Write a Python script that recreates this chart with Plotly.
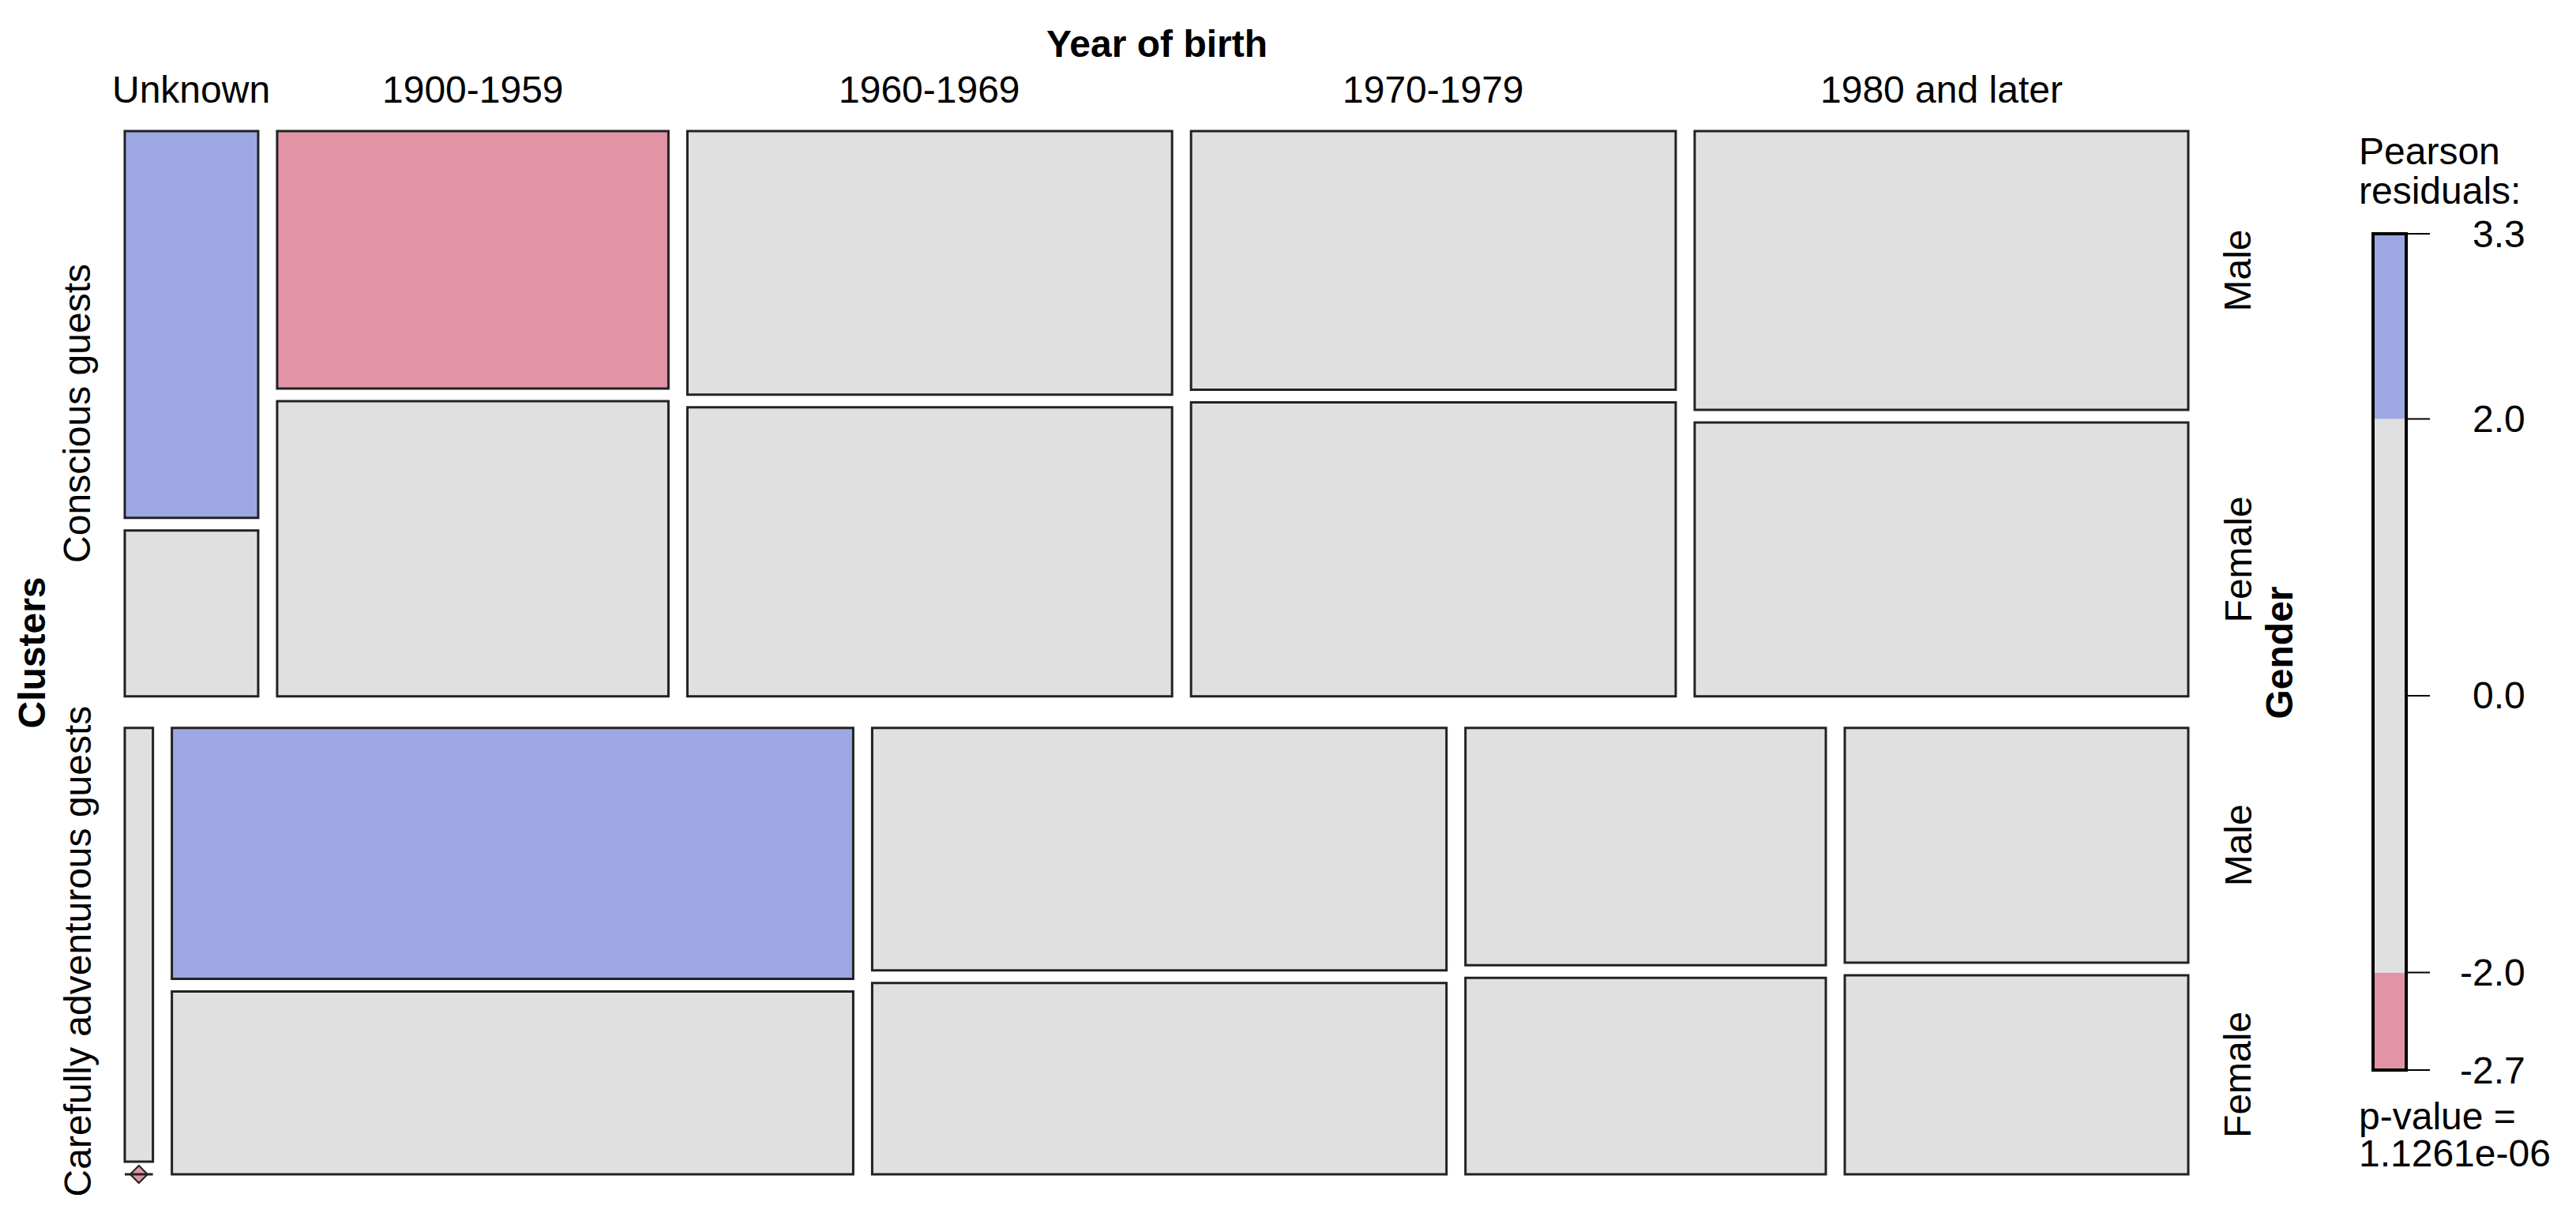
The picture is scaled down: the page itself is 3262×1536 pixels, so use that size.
import numpy as np
import plotly.graph_objects as go

clusters = ["Conscious guests", "Carefully adventurous guests"]
years = ["Unknown", "1900-1959", "1960-1969", "1970-1979", "1980 and later"]
genders = ["Male", "Female"]

male_conscious = [21, 41, 52, 51, 56]
female_conscious = [9, 47, 57, 58, 55]
male_careful = [5, 70, 57, 35, 33]
female_careful = [0, 51, 45, 29, 28]

p_value_text = "1.1261e-06"

# colours (vcd hcl shading)
col_pos = "#9DA8E2"
col_neg = "#E294A6"
col_mid = "#E0E0E0"
edge = "#222222"
FONT = "Liberation Sans, Arial, sans-serif"
FS = 48

W, H = 3262, 1536
OFF = 8          # the page body margin shifts the figure by 8px
TDY = -3         # nudge horizontal text so glyphs sit centred
TDX = -6         # same for rotated text


def px(x):
    return (x - OFF) / W


def py(y):
    return 1 - (y - OFF) / H


# mosaic area in reference pixels
MX0, MX1, MY0, MY1 = 158 - OFF, 2771 - OFF, 166 - OFF, 1487 - OFF
PAD = 10
gap_cluster = 40 / (MY1 - MY0)
gap_year = 24 / (MX1 - MX0)
gap_gender = 16 / (MY1 - MY0)

counts = np.array([[male_conscious, female_conscious],
                   [male_careful, female_careful]], dtype=float).transpose(0, 2, 1)  # cluster, year, gender
N = counts.sum()
p_c = counts.sum(axis=(1, 2)) / N
p_y = counts.sum(axis=(0, 2)) / N
p_g = counts.sum(axis=(0, 1)) / N
expected = N * p_c[:, None, None] * p_y[None, :, None] * p_g[None, None, :]
resid = (counts - expected) / np.sqrt(expected)


def shade(r):
    if r >= 2:
        return col_pos
    if r <= -2:
        return col_neg
    return col_mid


fig = go.Figure()
shapes = []
annotations = []

cluster_tot = counts.sum(axis=(1, 2))
y_top = 1.0
cluster_centers = []
gender_label_pos = []
year_centers_top = []
for i in range(len(clusters)):
    h = (1 - gap_cluster) * cluster_tot[i] / N
    cluster_centers.append(y_top - h / 2)
    ytot = counts[i].sum(axis=1)
    x0 = 0.0
    for j in range(len(years)):
        w = (1 - gap_year * (len(years) - 1)) * ytot[j] / cluster_tot[i]
        if i == 0:
            year_centers_top.append(x0 + w / 2)
        yy = y_top
        for k in range(len(genders)):
            gh = (h - gap_gender) * counts[i, j, k] / ytot[j]
            if counts[i, j, k] > 0:
                shapes.append(dict(type="rect", xref="x", yref="y", x0=x0, x1=x0 + w,
                                   y0=yy - gh, y1=yy, fillcolor=shade(resid[i, j, k]),
                                   line=dict(color=edge, width=3), layer="above"))
            else:
                shapes.append(dict(type="line", xref="x", yref="y", x0=x0, x1=x0 + w,
                                   y0=yy, y1=yy, line=dict(color=edge, width=3)))
                fig.add_trace(go.Scatter(x=[x0 + w / 2], y=[yy], mode="markers", cliponaxis=False,
                                         marker=dict(symbol="diamond", size=17, color=shade(resid[i, j, k]),
                                                     line=dict(color=edge, width=2)),
                                         showlegend=False, hoverinfo="skip"))
            if j == len(years) - 1:
                gender_label_pos.append((genders[k], yy - gh / 2))
            yy -= gh + gap_gender
        x0 += w + gap_year
    y_top -= h + gap_cluster


def label(text, **kw):
    d = dict(text=text, showarrow=False, xanchor="center", yanchor="middle", font=dict(size=FS))
    d.update(kw)
    annotations.append(d)


# labels around the mosaic
label("<b>Year of birth</b>", xref="x", yref="paper", x=0.5, y=py(52), yshift=TDY)
for name, xc in zip(years, year_centers_top):
    label(name, xref="x", yref="paper", x=xc, y=py(111), yshift=TDY)
label("<b>Clusters</b>", xref="paper", yref="y", x=px(46), y=0.5, textangle=-90, xshift=TDX)
for name, yc in zip(clusters, cluster_centers):
    label(name, xref="paper", yref="y", x=px(104), y=yc, textangle=-90, xshift=TDX)
for name, yc in gender_label_pos:
    label(name, xref="paper", yref="y", x=px(2840), y=yc, textangle=-90, xshift=TDX)
label("<b>Gender</b>", xref="paper", yref="y", x=px(2892), y=0.5, textangle=-90, xshift=TDX)

# legend (shading scale)
rmin, rmax = float(resid.min()), float(resid.max())
LX0, LX1, LT, LB = 3005 - OFF, 3047 - OFF, 296 - OFF, 1355 - OFF
bw = LX1 - LX0
ppu = (LB - LT) / (rmax - rmin)
breaks = [rmin, -2, 0, 2, rmax]
segs = [(rmin, -2, col_neg), (-2, 2, col_mid), (2, rmax, col_pos)]
for a, b, c in segs:
    shapes.append(dict(type="rect", xref="x2", yref="y2", x0=0, x1=1, y0=a, y1=b,
                       fillcolor=c, line=dict(width=0)))
shapes.append(dict(type="rect", xref="x2", yref="y2", x0=0, x1=1, y0=rmin, y1=rmax,
                   line=dict(color="black", width=4)))
for v in breaks:
    shapes.append(dict(type="line", xref="x2", yref="y2", x0=1, x1=(3077 - OFF - LX0) / bw, y0=v, y1=v,
                       line=dict(color="black", width=2)))
    label(f"{v:.1f}", xref="x2", yref="y2", x=(3200 - OFF - LX0) / bw, y=v,
          xanchor="right", yshift=0)
for txt, ypx in [("Pearson", 195), ("residuals:", 244), ("p-value =", 1416), (p_value_text, 1463)]:
    label(txt, xref="paper", yref="paper", x=px(2985), y=py(ypx), xanchor="left", yshift=3)

mw = MX1 - MX0
mh = MY1 - MY0
fig.update_layout(
    width=W, height=H,
    margin=dict(l=0, r=0, t=0, b=0),
    paper_bgcolor="white", plot_bgcolor="white",
    font=dict(family=FONT, color="black", size=FS),
    xaxis=dict(domain=[(MX0 - PAD) / W, (MX1 + PAD) / W], range=[-PAD / mw, 1 + PAD / mw], visible=False),
    yaxis=dict(domain=[1 - (MY1 + PAD) / H, 1 - (MY0 - PAD) / H], range=[-PAD / mh, 1 + PAD / mh], visible=False),
    xaxis2=dict(domain=[(LX0 - PAD) / W, 1.0], range=[-PAD / bw, (W - LX0) / bw], visible=False, anchor="y2"),
    yaxis2=dict(domain=[1 - (LB + PAD) / H, 1 - (LT - PAD) / H],
                range=[rmin - PAD / ppu, rmax + PAD / ppu], visible=False, anchor="x2"),
    shapes=shapes,
    annotations=annotations,
    showlegend=False,
)

fig.write_html("out.html")
